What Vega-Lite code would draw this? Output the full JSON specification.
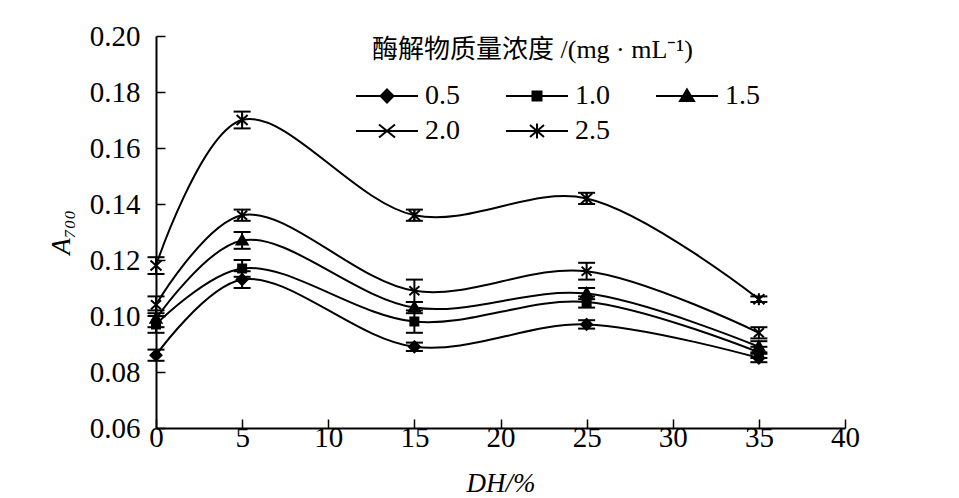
{
  "$schema": "https://vega.github.io/schema/vega-lite/v6.json",
  "width": 689,
  "height": 392,
  "autosize": {"type": "none"},
  "padding": {"left": 156, "top": 36, "right": 114, "bottom": 70},
  "background": "white",
  "config": {
    "view": {"stroke": null},
    "font": "Liberation Serif, Times New Roman, serif",
    "axis": {
      "grid": false,
      "domainColor": "black",
      "domainWidth": 2,
      "tickColor": "black",
      "tickWidth": 1.5,
      "tickSize": -9,
      "labelFlush": false,
      "labelColor": "black",
      "labelFont": "Liberation Serif, Times New Roman, serif",
      "labelFontSize": 29,
      "titleColor": "black",
      "titleFont": "Liberation Serif, Times New Roman, serif",
      "titleFontSize": 27,
      "titleFontStyle": "italic",
      "titleFontWeight": "normal"
    },
    "legend": {
      "orient": "none",
      "direction": "horizontal",
      "legendX": 216,
      "legendY": 1,
      "columns": 3,
      "symbolSize": 4,
      "symbolOffset": 1,
      "symbolStrokeWidth": 2,
      "symbolOpacity": 1,
      "labelFont": "Liberation Serif, Times New Roman, serif",
      "labelFontSize": 28,
      "labelColor": "black",
      "labelOffset": 24,
      "titleFont": "Liberation Serif, Times New Roman, Noto Sans CJK SC, serif",
      "titleFontSize": 26,
      "titleFontWeight": "normal",
      "titleColor": "black",
      "titleLimit": 700,
      "titlePadding": 19,
      "columnPadding": 42,
      "rowPadding": 7
    }
  },
  "data": {
    "values": [
      {"dh": 0, "c": "0.5", "a": 0.086, "err": 0.002},
      {"dh": 5, "c": "0.5", "a": 0.113, "err": 0.003},
      {"dh": 15, "c": "0.5", "a": 0.089, "err": 0.0015},
      {"dh": 25, "c": "0.5", "a": 0.097, "err": 0.0015},
      {"dh": 35, "c": "0.5", "a": 0.085, "err": 0.0015},
      {"dh": 0, "c": "1.0", "a": 0.097, "err": 0.003},
      {"dh": 5, "c": "1.0", "a": 0.117, "err": 0.003},
      {"dh": 15, "c": "1.0", "a": 0.098, "err": 0.004},
      {"dh": 25, "c": "1.0", "a": 0.105, "err": 0.002},
      {"dh": 35, "c": "1.0", "a": 0.087, "err": 0.002},
      {"dh": 0, "c": "1.5", "a": 0.099, "err": 0.003},
      {"dh": 5, "c": "1.5", "a": 0.127, "err": 0.003},
      {"dh": 15, "c": "1.5", "a": 0.103, "err": 0.002},
      {"dh": 25, "c": "1.5", "a": 0.108, "err": 0.002},
      {"dh": 35, "c": "1.5", "a": 0.089, "err": 0.002},
      {"dh": 0, "c": "2.0", "a": 0.104, "err": 0.003},
      {"dh": 5, "c": "2.0", "a": 0.136, "err": 0.002},
      {"dh": 15, "c": "2.0", "a": 0.109, "err": 0.004},
      {"dh": 25, "c": "2.0", "a": 0.116, "err": 0.003},
      {"dh": 35, "c": "2.0", "a": 0.094, "err": 0.002},
      {"dh": 0, "c": "2.5", "a": 0.118, "err": 0.003},
      {"dh": 5, "c": "2.5", "a": 0.170, "err": 0.003},
      {"dh": 15, "c": "2.5", "a": 0.136, "err": 0.002},
      {"dh": 25, "c": "2.5", "a": 0.142, "err": 0.002},
      {"dh": 35, "c": "2.5", "a": 0.106, "err": 0.001}
    ]
  },
  "encoding": {
    "x": {
      "field": "dh",
      "type": "quantitative",
      "scale": {"domain": [0, 40], "nice": false},
      "axis": {"values": [0, 5, 10, 15, 20, 25, 30, 35, 40], "title": "DH/%", "labelPadding": 4, "titlePadding": 18}
    },
    "y": {
      "field": "a",
      "type": "quantitative",
      "scale": {"domain": [0.06, 0.2], "nice": false, "zero": false},
      "axis": {"values": [0.06, 0.08, 0.1, 0.12, 0.14, 0.16, 0.18, 0.2], "format": ".2f", "title": "A₇₀₀", "labelPadding": 25, "titlePadding": 14}
    }
  },
  "layer": [
    {
      "mark": {"type": "line", "interpolate": "catmull-rom", "color": "black", "strokeWidth": 2},
      "encoding": {"detail": {"field": "c", "type": "nominal"}}
    },
    {
      "mark": {
        "type": "errorbar",
        "color": "black",
        "opacity": 1,
        "thickness": 2,
        "rule": {"color": "black", "opacity": 1, "strokeWidth": 2},
        "ticks": {"size": 17, "thickness": 2, "color": "black", "opacity": 1}
      },
      "encoding": {"yError": {"field": "err"}}
    },
    {
      "mark": {"type": "point", "filled": true, "color": "black", "stroke": "black", "strokeWidth": 2, "opacity": 1, "size": 100},
      "encoding": {
        "shape": {
          "field": "c",
          "type": "nominal",
          "legend": null,
          "scale": {
            "domain": ["0.5", "1.0", "1.5", "2.0", "2.5"],
            "range": [
              "M0,-1.1L1.1,0L0,1.1L-1.1,0Z",
              "M-0.8,-0.8L0.8,-0.8L0.8,0.8L-0.8,0.8Z",
              "M0,-1.1L1.1,0.8L-1.1,0.8Z",
              "M-1,-0.9L1,0.9M-1,0.9L1,-0.9",
              "M0,-1.2L0,1.2M-1.1,-1L1.1,1M-1.1,1L1.1,-1"
            ]
          }
        }
      }
    },
    {
      "transform": [{"filter": "datum.dh > 100"}],
      "mark": {"type": "point", "filled": false, "color": "black", "strokeWidth": 2, "opacity": 1, "size": 4},
      "encoding": {
        "shape": {
          "field": "c",
          "type": "nominal",
          "scale": {
            "domain": ["0.5", "1.0", "1.5", "2.0", "2.5"],
            "range": [
              "M-31,0L31,0M0,-6.5L6.5,0L0,6.5L-6.5,0Z",
              "M-31,0L31,0M-4.5,-4.5L4.5,-4.5L4.5,4.5L-4.5,4.5Z",
              "M-31,0L31,0M0,-6.5L7,5L-7,5Z",
              "M-31,0L31,0M-8,-6.5L8,6.5M-8,6.5L8,-6.5",
              "M-31,0L31,0M0,-7.5L0,7.5M-7,-6L7,6M-7,6L7,-6"
            ]
          },
          "legend": {"title": "酶解物质量浓度 /(mg · mL⁻¹)"}
        }
      }
    },
    {
      "transform": [{"filter": "datum.dh > 100"}],
      "mark": {"type": "point", "filled": true, "color": "black", "opacity": 1, "size": 4},
      "encoding": {
        "shape": {
          "field": "c",
          "type": "nominal",
          "scale": {
            "domain": ["0.5", "1.0", "1.5", "2.0", "2.5"],
            "range": [
              "M-31,0L31,0M0,-6.5L6.5,0L0,6.5L-6.5,0Z",
              "M-31,0L31,0M-4.5,-4.5L4.5,-4.5L4.5,4.5L-4.5,4.5Z",
              "M-31,0L31,0M0,-6.5L7,5L-7,5Z",
              "M-31,0L31,0M-8,-6.5L8,6.5M-8,6.5L8,-6.5",
              "M-31,0L31,0M0,-7.5L0,7.5M-7,-6L7,6M-7,6L7,-6"
            ]
          },
          "legend": {"title": "酶解物质量浓度 /(mg · mL⁻¹)", "titleOpacity": 0, "labelOpacity": 0}
        }
      }
    }
  ],
  "resolve": {"scale": {"shape": "independent"}, "legend": {"shape": "independent"}}
}
